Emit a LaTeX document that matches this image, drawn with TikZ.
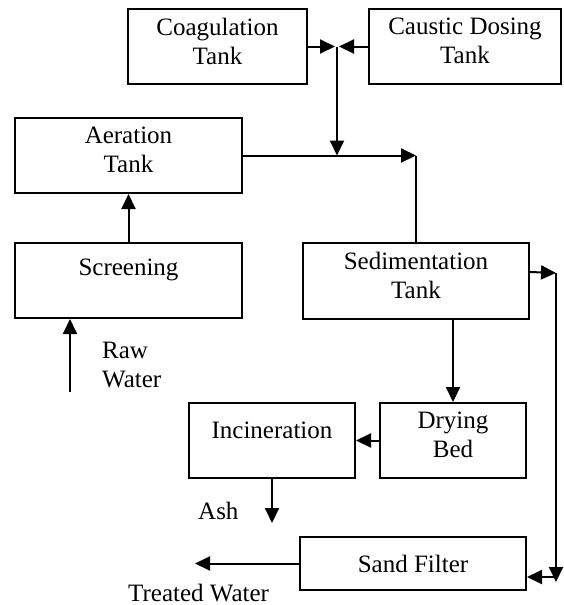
\documentclass[tikz,border=0pt]{standalone}
\usepackage{fontspec}
\setmainfont{Liberation Serif}
\usetikzlibrary{arrows.meta,calc}
\begin{document}
\begin{tikzpicture}[x=1pt,y=-1pt,
  box/.style={draw,line width=2pt,rectangle,inner sep=0pt},
  txt/.style={font=\fontsize{25}{29}\selectfont,align=center,inner sep=0pt},
  flow/.style={line width=2pt,-{Triangle[length=15pt,width=14pt]}},
  plain/.style={line width=2pt}]
\useasboundingbox (0,0) rectangle (563,605);
% boxes
\node[box,minimum width=179pt,minimum height=75pt] (coag) at (217.5,46.5) {};
\node[box,minimum width=192pt,minimum height=75pt] (caus) at (465,46.5) {};
\node[box,minimum width=227pt,minimum height=75pt] (aer) at (128.5,155.5) {};
\node[box,minimum width=227pt,minimum height=75pt] (scr) at (128.5,280.5) {};
\node[box,minimum width=226pt,minimum height=76pt] (sed) at (416,281) {};
\node[box,minimum width=146pt,minimum height=75pt] (dry) at (453,440.5) {};
\node[box,minimum width=166pt,minimum height=75pt] (inc) at (272,440.5) {};
\node[box,minimum width=226pt,minimum height=53pt] (sf) at (413,563.5) {};
% box texts
\node[txt,yshift=5.5pt] (tcoag) at (coag) {Coagulation\\Tank};
\node[txt,yshift=5.5pt] (tcaus) at (caus) {Caustic Dosing\\Tank};
\node[txt,yshift=5.5pt] (taer) at (aer) {Aeration\\Tank};
\node[txt,yshift=5.5pt] (tsed) at (sed) {Sedimentation\\Tank};
\node[txt,yshift=5.5pt] (tdry) at (dry) {Drying\\Bed};
\node[txt,anchor=base] (tscr) at (128.5,275) {Screening};
\node[txt,anchor=base] (tinc) at (272,438) {Incineration};
\node[txt] (tsf) at (sf) {Sand Filter};
% free labels
\node[txt,anchor=base west] (raw) at (102,358) {Raw};
\node[txt,anchor=base west] (water) at (102,387) {Water};
\node[txt,anchor=base west] (ashl) at (198,519) {Ash};
\node[txt,anchor=base west] (treated) at (128,601) {Treated Water};
% coordinates
\coordinate (j) at (337,46.5);
\coordinate (jl) at (335,46.5);
\coordinate (jr) at (339,46.5);
\coordinate (m) at (337,155.5);
\coordinate (c1) at (416,155.5);
\coordinate (s1) at ($(sed.north east)+(0,30)$);
\coordinate (c2) at (556,273);
\coordinate (c3) at (556,582);
\coordinate (c4) at (556,577);
\coordinate (ash) at (272,523);
\coordinate (tw) at (195,563.5);
\coordinate (rw) at (70,392);
% connectors
\draw[flow] (coag.east) -- (jl);
\draw[flow] (caus.west) -- (jr);
\draw[flow] (j) -- (m);
\draw[flow] (aer.east) -- (c1);
\draw[plain] (c1) -- (sed.north);
\draw[flow] (s1) -- (c2);
\draw[flow] (c2) -- (c3);
\draw[flow] (c4) -- (c4 -| sf.east);
\draw[flow] (sed.south -| dry.north) -- (dry.north);
\draw[flow] (dry.west) -- (inc.east);
\draw[flow] (inc.south) -- (ash);
\draw[flow] (sf.west) -- (tw);
\draw[flow] (scr.north) -- (aer.south);
\draw[flow] (rw) -- (rw |- scr.south);
\end{tikzpicture}
\end{document}
